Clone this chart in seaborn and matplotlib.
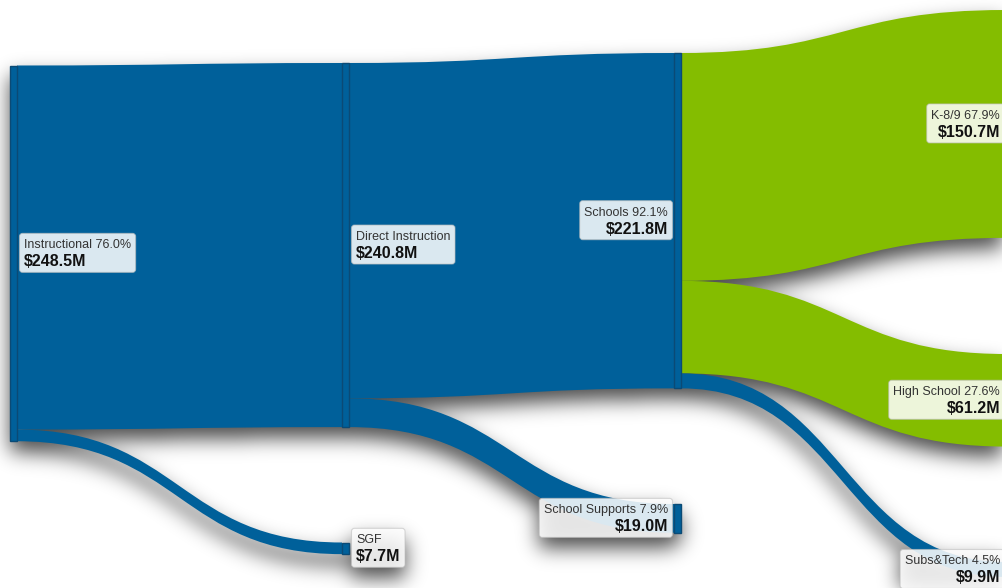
import numpy as np
import pandas as pd
import seaborn as sns
import matplotlib
matplotlib.use("Agg")
import matplotlib.pyplot as plt
from matplotlib.path import Path
from matplotlib.patches import PathPatch, Rectangle, FancyBboxPatch

# ---------------- data ----------------
node_names = ["Instructional", "Direct Instruction", "SGF", "Schools",
              "School Supports", "K-8/9", "High School", "Subs&Tech"]
node_pcts = ["76.0%", "", "", "92.1%", "7.9%", "67.9%", "27.6%", "4.5%"]
node_cols = [0, 1, 1, 2, 2, 3, 3, 3]
link_src = [0, 0, 1, 1, 3, 3, 3]
link_tgt = [1, 2, 3, 4, 5, 6, 7]
link_val = [240.8, 7.7, 221.8, 19.0, 150.7, 61.2, 9.9]

# ---------------- style / layout ----------------
sns.set_theme(style="white")
plt.rcParams["font.family"] = ["Liberation Sans", "DejaVu Sans"]

BLUE = "#00609A"
GREEN = "#84BD00"
EDGE = "#0B4A75"
node_colors = [BLUE, BLUE, BLUE, BLUE, BLUE, GREEN, GREEN, BLUE]

W, H, DPI = 1002, 588, 100
PX_PER_M = 1.512          # vertical scale: pixels per $1M
COL_X0, COL_STEP, NODE_W = 10, 332, 7
node_top_px = [65.5, 63, 542.5, 53, 504, 10, 354, 562]   # layout offsets

links = pd.DataFrame({"src": link_src, "tgt": link_tgt, "val": link_val})
out_sum = links.groupby("src")["val"].sum()
in_sum = links.groupby("tgt")["val"].sum()
node_vals = [in_sum.get(i, out_sum.get(i, 0.0)) for i in range(len(node_names))]

fig = plt.figure(figsize=(W / DPI, H / DPI), dpi=DPI)
fig.patch.set_facecolor("white")
ax = fig.add_axes([0, 0, 1, 1])
ax.set_xlim(0, W)
ax.set_ylim(H / PX_PER_M, 0)
ax.axis("off")

m = lambda px: px / PX_PER_M          # px -> value units (vertical)
node_x = [COL_X0 + c * COL_STEP for c in node_cols]
node_top = [m(p) for p in node_top_px]

shadow_paths = []

# links
out_off = {i: 0.0 for i in range(len(node_names))}
in_off = {i: 0.0 for i in range(len(node_names))}
for s, t, v in zip(link_src, link_tgt, link_val):
    x0 = node_x[s] + NODE_W
    x1 = node_x[t]
    s0 = node_top[s] + out_off[s]; s1 = s0 + v
    t0 = node_top[t] + in_off[t]; t1 = t0 + v
    out_off[s] += v; in_off[t] += v
    xm = (x0 + x1) / 2
    verts = [(x0, s0), (xm, s0), (xm, t0), (x1, t0),
             (x1, t1), (xm, t1), (xm, s1), (x0, s1), (x0, s0)]
    codes = [Path.MOVETO, Path.CURVE4, Path.CURVE4, Path.CURVE4,
             Path.LINETO, Path.CURVE4, Path.CURVE4, Path.CURVE4, Path.CLOSEPOLY]
    p = Path(verts, codes)
    shadow_paths.append(p)
    ax.add_patch(PathPatch(p, facecolor=node_colors[t],
                           edgecolor="none", lw=0, zorder=2))

# nodes
for i, v in enumerate(node_vals):
    r = Rectangle((node_x[i], node_top[i]), NODE_W, v, facecolor=node_colors[i],
                  edgecolor=EDGE if node_colors[i] == BLUE else "#5f8a00",
                  lw=1.0, zorder=3)
    ax.add_patch(r)
    shadow_paths.append(r.get_path().transformed(r.get_patch_transform()))

# labels
texts = []
for i, name in enumerate(node_names):
    cy_px = (node_top[i] + node_vals[i] / 2) * PX_PER_M
    right_side = node_cols[i] < 2
    if right_side:
        tx, ha = node_x[i] + NODE_W + 7, "left"
    else:
        tx, ha = node_x[i] - 6, "right"
    label = f"{name} {node_pcts[i]}".strip()
    t1 = ax.text(tx, m(cy_px - 5), label, ha=ha, va="baseline", fontsize=9,
                 color="#333333", zorder=6)
    t2 = ax.text(tx, m(cy_px + 13), f"${node_vals[i]:.1f}M", ha=ha, va="baseline",
                 fontsize=11.5, fontweight="bold", color="#111111", zorder=6)
    texts.append((t1, t2, cy_px))

fig.canvas.draw()
renderer = fig.canvas.get_renderer()
inv = ax.transData.inverted()
for t1, t2, cy_px in texts:
    b1 = t1.get_window_extent(renderer)
    b2 = t2.get_window_extent(renderer)
    left = min(b1.x0, b2.x0) - 4.5
    right = max(b1.x1, b2.x1) + 4.5
    x_left = inv.transform((left, 0))[0]
    x_right = inv.transform((right, 0))[0]
    y_top = m(cy_px - 20)
    y_bot = m(cy_px + 19)
    box = FancyBboxPatch((x_left, y_top), x_right - x_left, y_bot - y_top,
                         boxstyle="round,pad=0,rounding_size=3",
                         mutation_aspect=1 / PX_PER_M,
                         facecolor=(1, 1, 1, 0.86), edgecolor=(0.75, 0.75, 0.75, 0.6),
                         lw=0.8, zorder=5)
    ax.add_patch(box)
    rect = Rectangle((x_left, y_top), x_right - x_left, y_bot - y_top)
    shadow_paths.append(rect.get_path().transformed(rect.get_patch_transform()))

# drop shadow layer (rasterised, blurred)
yy, xx = np.mgrid[0:H, 0:W]
pts = np.column_stack([xx.ravel() + 0.5, H - yy.ravel() - 0.5])
mask = np.zeros(H * W, dtype=bool)
for p in shadow_paths:
    dp = ax.transData.transform_path(p)
    mask |= dp.contains_points(pts)
mask = mask.reshape(H, W).astype(float)
dy = 11
shifted = np.zeros_like(mask)
shifted[dy:, :] = mask[:-dy, :]

def blur(a, sigma):
    r = int(3 * sigma)
    k = np.exp(-0.5 * (np.arange(-r, r + 1) / sigma) ** 2)
    k /= k.sum()
    pad = np.pad(a, ((r, r), (r, r)), mode="constant")
    tmp = np.zeros((pad.shape[0], a.shape[1]))
    for j, w in enumerate(k):
        tmp += w * pad[:, j:j + a.shape[1]]
    out = np.zeros_like(a)
    for j, w in enumerate(k):
        out += w * tmp[j:j + a.shape[0], :]
    return out

sh = blur(shifted, 10)
rgba = np.zeros((H, W, 4))
rgba[..., 3] = np.clip(sh * 0.7, 0, 1)
ax.imshow(rgba, extent=(0, W, H / PX_PER_M, 0), origin="upper",
          aspect="auto", interpolation="bilinear", zorder=1)
ax.set_xlim(0, W)
ax.set_ylim(H / PX_PER_M, 0)

fig.savefig("out.png", dpi=DPI, facecolor="white")
